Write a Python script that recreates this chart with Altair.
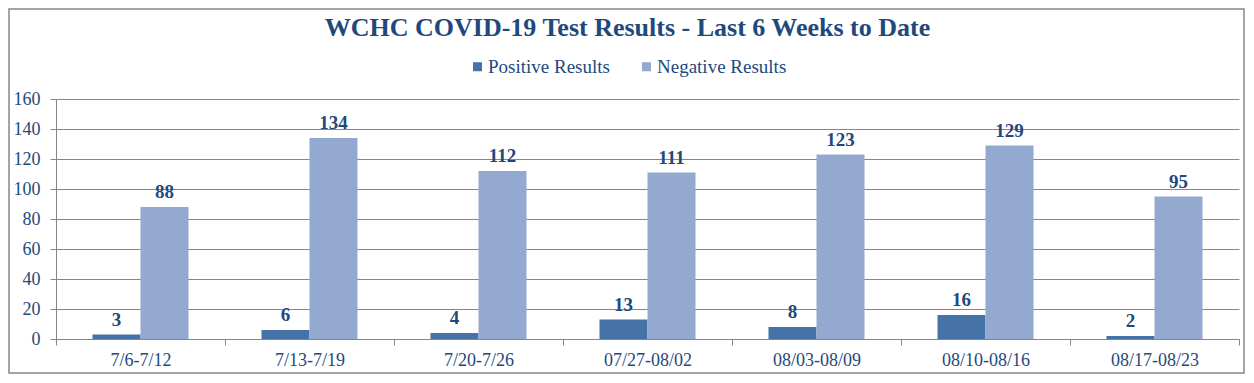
import altair as alt
import pandas as pd

weeks = ["7/6-7/12", "7/13-7/19", "7/20-7/26", "07/27-08/02", "08/03-08/09", "08/10-08/16", "08/17-08/23"]
positive = [3, 6, 4, 13, 8, 16, 2]
negative = [88, 134, 112, 111, 123, 129, 95]
series = ["Positive Results", "Negative Results"]
colors = ["#4572A7", "#93A9CF"]
y_ticks = [0, 20, 40, 60, 80, 100, 120, 140, 160]

rows = []
for w, p, n in zip(weeks, positive, negative):
    rows.append({"week": w, "series": series[0], "value": p})
    rows.append({"week": w, "series": series[1], "value": n})
df = pd.DataFrame(rows)

W, H = 1183, 240
FONT = "Liberation Serif"
TEXT = "#1F497D"
GRID = "#868686"

x = alt.X("week:N", sort=weeks,
          scale=alt.Scale(paddingInner=0, paddingOuter=0),
          axis=alt.Axis(title=None, labelAngle=0, labelFontSize=18, labelColor=TEXT,
                        labelFont=FONT, domainColor=GRID, tickColor=GRID,
                        tickBand="extent", tickSize=6, labelPadding=6, grid=False))
xo = alt.XOffset("series:N", sort=series, scale=alt.Scale(paddingOuter=0.76, paddingInner=0))
y = alt.Y("value:Q", scale=alt.Scale(domain=[0, 160]),
          axis=alt.Axis(title=None, values=y_ticks, grid=True, gridColor=GRID,
                        domainColor=GRID, tickColor=GRID, tickSize=6, labelPadding=10,
                        labelFontSize=18, labelFont=FONT, labelColor=TEXT))

base = alt.Chart(df)

bars = base.mark_bar().encode(
    x=x, xOffset=xo, y=y,
    color=alt.Color("series:N", sort=series,
                    scale=alt.Scale(domain=series, range=colors),
                    legend=alt.Legend(title=None, orient="none", legendX=412, legendY=-42,
                                      direction="horizontal", labelFont=FONT, labelFontSize=19,
                                      labelColor=TEXT, symbolType="square", symbolSize=81,
                                      symbolStrokeWidth=0, columnPadding=27, labelOffset=1)),
)

labels = base.mark_text(dy=-9, baseline="alphabetic", fontWeight="bold", fontSize=19,
                        font=FONT, color=TEXT).encode(
    x=x, xOffset=xo, y=y, text=alt.Text("value:Q"))

border = alt.Chart(pd.DataFrame({"a": [0]})).mark_rect(
    fillOpacity=0, stroke=GRID, strokeWidth=1.5).encode(
    x=alt.value(-47), x2=alt.value(W + 5), y=alt.value(-90), y2=alt.value(H + 34))

chart = alt.layer(border, bars, labels).properties(
    width=W, height=H,
    padding={"left": 48, "top": 91, "right": 6, "bottom": 35},
    autosize=alt.AutoSizeParams(type="none"),
    title=alt.TitleParams("WCHC COVID-19 Test Results - Last 6 Weeks to Date",
                          font=FONT, fontSize=26, fontWeight="bold", color=TEXT,
                          anchor="middle", dx=-20, offset=0, dy=54, baseline="alphabetic"),
    background="white",
).configure_view(stroke=None).configure_legend(labelFont=FONT).configure_axis(labelFont=FONT)

chart.save("out.html", embed_options={"renderer": "svg", "actions": False})
